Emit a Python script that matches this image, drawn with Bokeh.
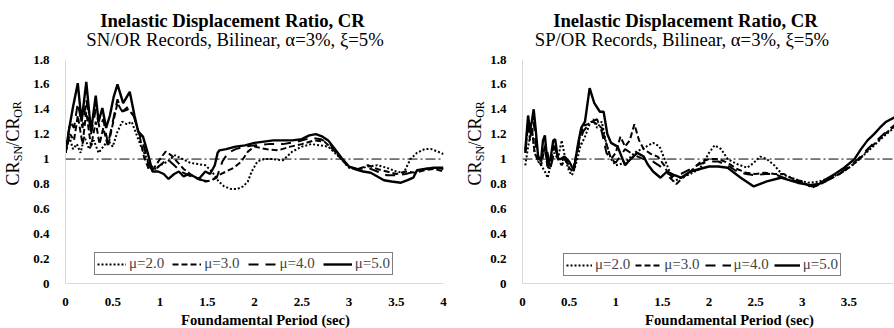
from bokeh.plotting import figure
from bokeh.models import Range1d, FixedTicker, Label, Span, Legend, LegendItem
from bokeh.layouts import row, column
from bokeh.embed import file_html
from bokeh.resources import INLINE

# ---------------- data ----------------
x_ticks = [0, 0.5, 1, 1.5, 2, 2.5, 3, 3.5, 4]
x_tick_labels = ["0", "0.5", "1", "1.5", "2", "2.5", "3", "3.5", "4"]
y_ticks = [0, 0.2, 0.4, 0.6, 0.8, 1.0, 1.2, 1.4, 1.6, 1.8]
y_tick_labels = ["0", "0.2", "0.4", "0.6", "0.8", "1", "1.2", "1.4", "1.6", "1.8"]
series_labels = ["μ=2.0", "μ=3.0", "μ=4.0", "μ=5.0"]

# SN/OR (left)
sn_T2 = [0, 0.04, 0.08, 0.12, 0.16, 0.2, 0.25, 0.3, 0.35, 0.4, 0.45, 0.5, 0.55, 0.6, 0.65, 0.7, 0.75, 0.8, 0.85, 0.9,
         0.95, 1.0, 1.08, 1.16, 1.24, 1.32, 1.4, 1.48, 1.55, 1.62, 1.68, 1.75, 1.82, 1.88, 1.93, 1.97, 2.03, 2.1, 2.2,
         2.3, 2.4, 2.5, 2.6, 2.7, 2.78, 2.85, 2.92, 3.0, 3.1, 3.2, 3.3, 3.4, 3.5, 3.58, 3.65, 3.72, 3.8, 3.87, 3.94, 4.0]
sn_CR2 = [1.05, 1.18, 1.08, 1.12, 1.05, 1.18, 1.08, 1.15, 1.05, 1.1, 1.15, 1.1, 1.22, 1.3, 1.28, 1.3, 1.2, 1.1, 1.02,
          0.95, 0.92, 0.95, 0.98, 1.03, 1.0, 0.97, 0.96, 0.95, 0.9, 0.82, 0.78, 0.76, 0.76, 0.78, 0.82, 0.9, 0.98, 1.0,
          1.0, 0.99, 1.06, 1.1, 1.12, 1.11, 1.1, 1.05, 1.0, 0.93, 0.92, 0.94, 0.95, 0.93, 0.9, 0.89, 1.0, 1.05, 1.08,
          1.08, 1.06, 1.04]
sn_T3 = [0, 0.05, 0.09, 0.13, 0.18, 0.22, 0.27, 0.32, 0.36, 0.4, 0.45, 0.5, 0.55, 0.6, 0.66, 0.72, 0.78, 0.83, 0.88,
         0.93, 1.0, 1.06, 1.12, 1.18, 1.25, 1.32, 1.4, 1.48, 1.55, 1.62, 1.7, 1.78, 1.86, 1.93, 2.0, 2.12, 2.25, 2.38,
         2.5, 2.63, 2.74, 2.84, 2.92, 3.0, 3.1, 3.2, 3.3, 3.4, 3.5, 3.6, 3.7, 3.8, 3.9, 4.0]
sn_CR3 = [1.05, 1.2, 1.15, 1.35, 1.12, 1.38, 1.1, 1.3, 1.12, 1.25, 1.1, 1.28, 1.45, 1.38, 1.4, 1.35, 1.2, 1.02, 0.92,
          0.92, 1.0, 1.06, 1.03, 0.98, 0.92, 0.88, 0.84, 0.82, 0.83, 0.87, 0.9, 0.93, 0.98, 1.06, 1.1, 1.08, 1.07, 1.1,
          1.12, 1.15, 1.14, 1.07, 1.0, 0.94, 0.92, 0.95, 0.92, 0.9, 0.88, 0.9, 0.89, 0.91, 0.92, 0.9]
sn_T4 = [0, 0.05, 0.09, 0.13, 0.18, 0.22, 0.27, 0.32, 0.36, 0.4, 0.45, 0.5, 0.55, 0.6, 0.66, 0.72, 0.78, 0.83, 0.88,
         0.93, 1.0, 1.08, 1.15, 1.22, 1.3, 1.38, 1.45, 1.52, 1.6, 1.66, 1.72, 1.8, 1.9, 2.0, 2.15, 2.3, 2.45, 2.6, 2.7,
         2.8, 2.9, 3.0, 3.1, 3.2, 3.3, 3.4, 3.5, 3.6, 3.7, 3.8, 3.9, 4.0]
sn_CR4 = [1.05, 1.3, 1.25, 1.45, 1.25, 1.48, 1.2, 1.4, 1.25, 1.32, 1.12, 1.3, 1.48, 1.38, 1.42, 1.35, 1.2, 1.1, 0.95,
          0.9, 0.95, 1.0, 0.95, 0.9, 0.87, 0.85, 0.83, 0.82, 0.85, 0.98, 1.05, 1.08, 1.1, 1.11, 1.12, 1.12, 1.14, 1.17,
          1.16, 1.12, 1.02, 0.93, 0.92, 0.93, 0.9, 0.87, 0.87, 0.88, 0.9, 0.92, 0.93, 0.92]
sn_T5 = [0, 0.04, 0.08, 0.13, 0.17, 0.22, 0.27, 0.32, 0.35, 0.39, 0.43, 0.47, 0.51, 0.55, 0.61, 0.68, 0.73, 0.77, 0.82,
         0.87, 0.92, 0.98, 1.04, 1.09, 1.15, 1.2, 1.25, 1.3, 1.36, 1.41, 1.48, 1.53, 1.58, 1.61, 1.63, 1.7, 1.8, 1.9,
         2.0, 2.1, 2.2, 2.3, 2.4, 2.5, 2.58, 2.65, 2.72, 2.78, 2.85, 2.92, 3.0, 3.06, 3.15, 3.23, 3.3, 3.37, 3.45, 3.55,
         3.62, 3.68, 3.72, 3.8, 3.9, 4.0]
sn_CR5 = [1.05, 1.25, 1.42, 1.61, 1.3, 1.62, 1.22, 1.51, 1.3, 1.41, 1.25, 1.35, 1.5, 1.6, 1.45, 1.54, 1.35, 1.22, 1.18,
          1.05, 0.9, 0.9, 0.88, 0.84, 0.88, 0.9, 0.86, 0.88, 0.86, 0.84, 0.9, 0.88, 0.95, 1.05, 1.07, 1.08, 1.1, 1.11,
          1.13, 1.14, 1.15, 1.15, 1.15, 1.16, 1.19, 1.2, 1.18, 1.15, 1.08, 1.01, 0.94, 0.92, 0.9, 0.89, 0.86, 0.83,
          0.82, 0.81, 0.83, 0.85, 0.91, 0.92, 0.93, 0.93]

# SP/OR (right)
sp_T2 = [0.03, 0.06, 0.1, 0.13, 0.17, 0.2, 0.24, 0.27, 0.3, 0.34, 0.38, 0.42, 0.46, 0.5, 0.53, 0.57, 0.62, 0.67, 0.72,
         0.76, 0.8, 0.85, 0.9, 0.95, 1.0, 1.1, 1.2, 1.3, 1.4, 1.47, 1.55, 1.62, 1.7, 1.8, 1.9, 2.0, 2.06, 2.13, 2.2,
         2.3, 2.41, 2.48, 2.55, 2.62, 2.7, 2.78, 2.88, 3.0, 3.08, 3.18, 3.3, 3.4, 3.5, 3.6, 3.7, 3.8, 3.9, 4.0]
sp_CR2 = [0.95, 1.1, 1.25, 1.05, 0.98, 0.95, 0.9, 0.85, 0.95, 1.05, 1.0, 1.15, 1.0, 0.9, 0.87, 0.95, 1.1, 1.18, 1.28,
          1.32, 1.25, 1.3, 1.12, 1.0, 0.95, 0.97, 1.05, 1.09, 1.13, 1.1, 0.95, 0.82, 0.85, 0.88, 0.92, 1.05, 1.11,
          1.08, 1.0, 0.96, 0.93, 0.97, 1.02, 1.0, 0.95, 0.88, 0.85, 0.82, 0.81, 0.82, 0.85, 0.88, 0.93, 0.99, 1.06,
          1.13, 1.2, 1.26]
sp_T3 = [0.03, 0.06, 0.08, 0.1, 0.13, 0.16, 0.2, 0.24, 0.27, 0.3, 0.34, 0.38, 0.42, 0.46, 0.5, 0.54, 0.58, 0.62, 0.66,
         0.7, 0.75, 0.8, 0.85, 0.9, 0.95, 1.0, 1.05, 1.1, 1.15, 1.2, 1.25, 1.3, 1.38, 1.45, 1.52, 1.58, 1.65, 1.72,
         1.8, 1.9, 2.0, 2.1, 2.2, 2.3, 2.4, 2.5, 2.6, 2.7, 2.8, 2.9, 3.0, 3.1, 3.2, 3.3, 3.4, 3.5, 3.6, 3.7, 3.8, 3.9,
         4.0]
sp_CR3 = [1.05, 1.3, 1.15, 1.25, 1.05, 1.0, 0.95, 1.1, 0.92, 0.98, 1.12, 1.0, 0.95, 1.0, 0.93, 0.9, 1.05, 1.2, 1.27,
          1.28, 1.3, 1.28, 1.25, 1.12, 1.0, 1.05, 1.18, 1.1, 1.15, 1.28, 1.15, 1.08, 1.04, 1.02, 0.95, 0.85, 0.8, 0.85,
          0.9, 0.97, 1.0, 1.0, 0.97, 0.92, 0.89, 0.88, 0.89, 0.88, 0.88, 0.84, 0.82, 0.77, 0.8, 0.84, 0.88, 0.93, 0.99,
          1.07, 1.14, 1.21, 1.27]
sp_T4 = [0.03, 0.06, 0.09, 0.12, 0.15, 0.2, 0.25, 0.3, 0.35, 0.4, 0.45, 0.5, 0.55, 0.6, 0.65, 0.7, 0.75, 0.8, 0.85,
         0.9, 0.95, 1.0, 1.1, 1.2, 1.3, 1.4, 1.5, 1.6, 1.7, 1.8, 1.9, 2.0, 2.1, 2.2, 2.3, 2.4, 2.5, 2.6, 2.7, 2.8, 2.9,
         3.0, 3.1, 3.2, 3.3, 3.4, 3.5, 3.6, 3.7, 3.8, 3.9, 4.0]
sp_CR4 = [1.05, 1.28, 1.2, 1.3, 1.05, 0.98, 1.12, 0.93, 1.08, 0.98, 1.0, 0.95, 0.92, 1.1, 1.22, 1.27, 1.3, 1.32, 1.22,
          1.05, 1.0, 0.97, 1.08, 1.03, 1.0, 0.98, 0.93, 0.86, 0.88, 0.92, 0.96, 0.98, 0.98, 0.95, 0.9, 0.88, 0.87,
          0.88, 0.88, 0.85, 0.83, 0.81, 0.78, 0.8, 0.84, 0.88, 0.94, 1.0, 1.08, 1.15, 1.22, 1.28]
sp_T5 = [0.03, 0.06, 0.08, 0.1, 0.12, 0.14, 0.17, 0.2, 0.22, 0.24, 0.27, 0.3, 0.33, 0.35, 0.38, 0.41, 0.45, 0.5, 0.55,
         0.6, 0.63, 0.67, 0.72, 0.77, 0.83, 0.87, 0.91, 0.95, 1.02, 1.1, 1.16, 1.23, 1.3, 1.34, 1.4, 1.48, 1.55, 1.63,
         1.7, 1.8, 1.9, 2.0, 2.1, 2.2, 2.34, 2.48, 2.62, 2.77, 2.95, 3.08, 3.18, 3.26, 3.35, 3.45, 3.56, 3.63, 3.7,
         3.77, 3.83, 3.9, 4.0]
sp_CR5 = [1.07, 1.35, 1.23, 1.3, 1.4, 1.25, 1.0, 1.0, 1.15, 1.19, 0.95, 1.0, 1.15, 1.16, 1.0, 1.0, 1.02, 0.98, 0.91,
          1.14, 1.25, 1.3, 1.57, 1.45, 1.38, 1.38, 1.2, 1.13, 1.1, 0.95, 1.0, 1.05, 1.02, 0.96, 0.9, 0.85, 0.9, 0.87,
          0.85, 0.9, 0.92, 0.94, 0.94, 0.93, 0.85, 0.78, 0.82, 0.85, 0.81, 0.79, 0.8, 0.84, 0.88, 0.93, 1.0, 1.08,
          1.15, 1.2, 1.25, 1.3, 1.34]

ref_value = 1.0

# ---------------- styling / layout ----------------
SERIF = "'Liberation Serif'"
DASHES = ["2 2", "6 3", "10 7", "solid"]
WIDTHS = [2, 2, 2, 2.4]
BLOCK_W = 447
HEAD_H, MID_H, FOOT_H = 50, 260, 18      # 50 + 260 + 18 = 328
FRAME_TOP, FRAME_BOTTOM = 59, 283         # page y of the plotting frame


def text_fig(w, h):
    """A blank figure whose frame is its whole canvas; used to hold text."""
    t = figure(width=w, height=h, output_backend="svg", toolbar_location=None,
               x_axis_type=None, y_axis_type=None,
               x_range=Range1d(0, w), y_range=Range1d(0, h))
    t.min_border = 0
    t.outline_line_color = None
    t.title.visible = False
    return t


def add_text(fig, page_left, page_bottom, px, py, text, **kw):
    fig.add_layout(Label(x=px - page_left, y=page_bottom - py, x_units="screen", y_units="screen",
                         text=text, text_font=SERIF, text_color="black", **kw))


def make_block(page_left, ylab_w, frame_left, x_end, Ts, CRs, title, subtitle, sub1,
               title_px, subtitle_px, xtitle_px, ylab_cx, legend_loc, leg_glyph, leg_spacing):
    head = text_fig(BLOCK_W, HEAD_H)
    add_text(head, page_left, HEAD_H, title_px, 20, title, text_font_size="18.7px",
             text_font_style="bold", text_align="center", text_baseline="middle")
    add_text(head, page_left, HEAD_H, subtitle_px, 38.5, subtitle, text_font_size="18.7px",
             text_align="center", text_baseline="middle")

    # rotated y axis title CR_SN / CR_OR, each piece centred on its own spot
    ylab = text_fig(ylab_w, MID_H)
    pieces = [("CR", 18, 0, 200), (sub1, 12, 5, 180), ("/", 18, 0, 170.5),
              ("CR", 18, 0, 156), ("OR", 12, 5, 136)]
    for txt, fs, dx, cy in pieces:
        add_text(ylab, page_left, HEAD_H + MID_H, ylab_cx + dx, cy, txt,
                 angle=1.5708, text_font_size=f"{fs}px", text_align="center",
                 text_baseline="middle")

    main_w = BLOCK_W - ylab_w
    p = figure(width=main_w, height=MID_H, output_backend="svg", toolbar_location=None,
               x_range=Range1d(0, x_end), y_range=Range1d(0, 1.8))
    p.min_border = 0
    p.min_border_left = frame_left - page_left - ylab_w
    p.min_border_right = 0 if page_left > 0 else 4
    p.min_border_top = FRAME_TOP - HEAD_H
    p.min_border_bottom = HEAD_H + MID_H - FRAME_BOTTOM
    p.outline_line_color = None
    p.grid.visible = False
    p.title.visible = False

    for ax in (p.xaxis[0], p.yaxis[0]):
        ax.axis_line_color = "#d9d9d9"
        ax.axis_line_width = 1
        ax.major_tick_line_color = None
        ax.minor_tick_line_color = None
        ax.major_label_text_font = SERIF
        ax.major_label_text_font_style = "bold"
        ax.major_label_text_font_size = "13px"
        ax.major_label_text_color = "black"
    p.xaxis.ticker = FixedTicker(ticks=x_ticks)
    p.xaxis.major_label_overrides = {t: l for t, l in zip(x_ticks, x_tick_labels)}
    p.xaxis.major_label_standoff = 8
    p.yaxis.ticker = FixedTicker(ticks=y_ticks)
    p.yaxis.major_label_overrides = {t: l for t, l in zip(y_ticks, y_tick_labels)}
    p.yaxis.major_label_standoff = 10

    p.add_layout(Span(location=ref_value, dimension="width", line_color="black",
                      line_width=1, line_dash="10 3 2 3"))

    items = []
    for T, CR, dash, w, lab in zip(Ts, CRs, DASHES, WIDTHS, series_labels):
        r = p.line(T, CR, line_color="black", line_width=w, line_dash=dash)
        items.append(LegendItem(label=lab, renderers=[r]))

    leg = Legend(items=items, orientation="horizontal", location=legend_loc,
                 label_text_font=SERIF, label_text_font_size="15px",
                 glyph_width=leg_glyph, glyph_height=16, label_height=16,
                 label_standoff=3, spacing=leg_spacing, padding=2, margin=0,
                 border_line_color="black", border_line_width=1,
                 background_fill_alpha=1)
    p.add_layout(leg)

    foot = text_fig(BLOCK_W, FOOT_H)
    add_text(foot, page_left, HEAD_H + MID_H + FOOT_H, xtitle_px, 319, "Foundamental Period (sec)",
             text_font_size="14.7px", text_font_style="bold",
             text_align="center", text_baseline="middle")

    return column(head, row(ylab, p, spacing=0), foot, spacing=0)


left = make_block(0, 30, 63, 4.0,
                  [sn_T2, sn_T3, sn_T4, sn_T5], [sn_CR2, sn_CR3, sn_CR4, sn_CR5],
                  "Inelastic Displacement Ratio, CR", "SN/OR Records, Bilinear, α=3%, ξ=5%", "SN",
                  232, 234.5, 265, 12, (29, 8), 29, 8)
right = make_block(447, 40, 521, 373 / 93.5,
                   [sp_T2, sp_T3, sp_T4, sp_T5], [sp_CR2, sp_CR3, sp_CR4, sp_CR5],
                   "Inelastic Displacement Ratio, CR", "SP/OR Records, Bilinear, α=3%, ξ=5%", "SN",
                   685, 681.5, 729, 474, (41, 7), 26, 5)

layout = row(left, right, spacing=0)
open("out.html", "w").write(file_html(layout, INLINE))
